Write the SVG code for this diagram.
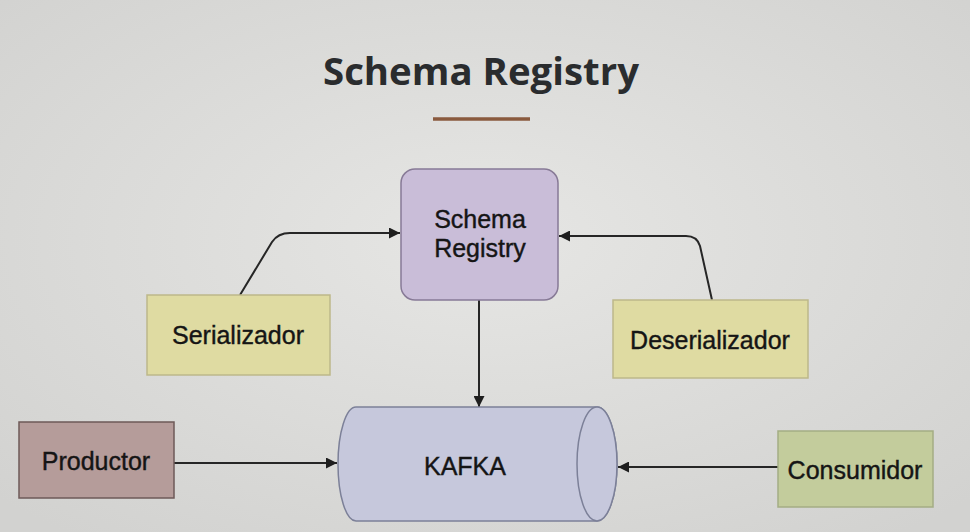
<svg xmlns="http://www.w3.org/2000/svg" width="970" height="532" viewBox="0 0 970 532">
<defs>
<radialGradient id="bg" cx="50%" cy="45%" r="70%">
<stop offset="0" stop-color="#e6e6e4"/>
<stop offset="1" stop-color="#d2d2d0"/>
</radialGradient>
<marker id="arr" viewBox="0 0 10 10" refX="10" refY="5" markerWidth="11" markerHeight="11" markerUnits="userSpaceOnUse" orient="auto">
<path d="M0,0 L10,5 L0,10 Z" fill="#1e1e1e"/>
</marker>
<style>
.lbl{font-family:"Liberation Sans",Arial,sans-serif;font-size:25px;fill:#151515;stroke:#151515;stroke-width:0.4;text-anchor:middle}
.edge{fill:none;stroke:#262626;stroke-width:2;marker-end:url(#arr)}
.box{stroke-width:1.5}
</style>
</defs>
<rect width="970" height="532" fill="url(#bg)"/>
<text x="481" y="85" font-family="'Open Sans','Lato',sans-serif" font-weight="bold" font-size="38" fill="#2a2c2e" text-anchor="middle" textLength="316" lengthAdjust="spacingAndGlyphs">Schema Registry</text>
<line x1="433" y1="119" x2="530" y2="119" stroke="#8a5a3e" stroke-width="3.5"/>
<g id="connectors">
<path class="edge" d="M240,295 L272,242 Q278,233 290,233 L400,233"/>
<path class="edge" d="M712,300 L700,246 Q697,236 686,236 L559,236"/>
<path class="edge" d="M479,300 L479,407"/>
<path class="edge" d="M174,463 L337,463"/>
<path class="edge" d="M778,467 L618,467"/>
</g>
<g id="schema-registry">
<rect class="box" x="401" y="169" width="157" height="131" rx="14" fill="#c9bdd8" stroke="#877a96"/>
<text class="lbl" x="480" y="228">Schema</text>
<text class="lbl" x="480" y="257">Registry</text>
</g>
<g id="serializador">
<rect class="box" x="147" y="295" width="183" height="80" fill="#dfdba2" stroke="#bdb88a"/>
<text class="lbl" x="238" y="344">Serializador</text>
</g>
<g id="deserializador">
<rect class="box" x="613" y="300" width="195" height="78" fill="#dfdba2" stroke="#bdb88a"/>
<text class="lbl" x="710" y="349">Deserializador</text>
</g>
<g id="kafka">
<path class="box" d="M356,407 L597,407 A20,57 0 0 1 597,521 L356,521 A18,57 0 0 1 356,407 Z" fill="#c6c8dc" stroke="#7c8098"/>
<ellipse class="box" cx="597" cy="464" rx="20" ry="57" fill="#c6c8dc" stroke="#7c8098"/>
<text class="lbl" x="465" y="475">KAFKA</text>
</g>
<g id="productor">
<rect class="box" x="19" y="422" width="155" height="76" fill="#b59c9a" stroke="#6e5a58"/>
<text class="lbl" x="96" y="470">Productor</text>
</g>
<g id="consumidor">
<rect class="box" x="778" y="431" width="155" height="76" fill="#c3cc9c" stroke="#a4ad84"/>
<text class="lbl" x="855" y="479">Consumidor</text>
</g>
</svg>
